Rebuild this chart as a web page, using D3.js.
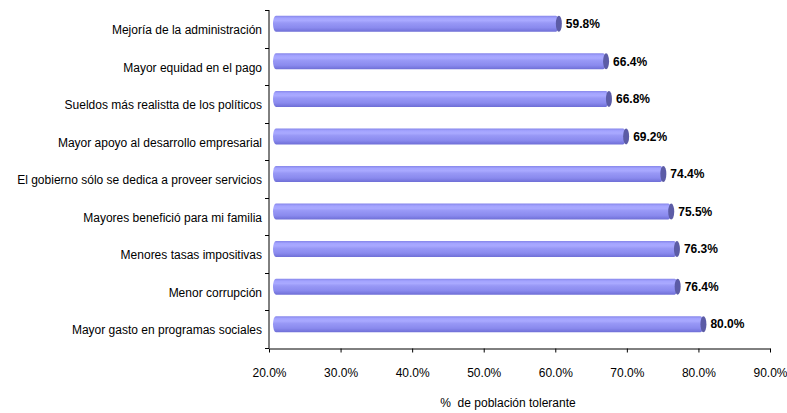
<!DOCTYPE html>
<html>
<head>
<meta charset="utf-8">
<script src="https://cdn.jsdelivr.net/npm/d3@7"></script>
<style>
  html, body { margin: 0; padding: 0; background: #fff; }
  svg { display: block; font-family: "Liberation Sans", Arial, sans-serif; }
</style>
</head>
<body>
<svg id="chart" width="787" height="413"></svg>
<script>
// Categories, top to bottom
const categories = [
  "Mejoría de la administración",
  "Mayor equidad en el pago",
  "Sueldos más realistta de los políticos",
  "Mayor apoyo al desarrollo empresarial",
  "El gobierno sólo se dedica a proveer servicios",
  "Mayores benefició para mi familia",
  "Menores tasas impositivas",
  "Menor corrupción",
  "Mayor gasto en programas sociales"
];
// Share of tolerant population (%)
const values = [59.8, 66.4, 66.8, 69.2, 74.4, 75.5, 76.3, 76.4, 80.0];
const xTicks = [20, 30, 40, 50, 60, 70, 80, 90];
const xTitle = "%  de población tolerante";

const svg = d3.select("#chart");
const margin = { left: 269, right: 18, top: 10, bottom: 65 };

const x = d3.scaleLinear().domain([20, 90]).range([margin.left, 770]);
const y = d3.scaleBand().domain(categories).range([margin.top, 348]).paddingInner(0).paddingOuter(0);

// Gradient for the cylindrical bars
const defs = svg.append("defs");
const grad = defs.append("linearGradient").attr("id", "barGrad")
  .attr("x1", 0).attr("y1", 0).attr("x2", 0).attr("y2", 1);
[
  [0, "#8686ea"], [0.15, "#a4a4ff"], [0.3, "#a9a9ff"], [0.45, "#9898f6"],
  [0.75, "#8a8aee"], [1, "#6e6ed6"]
].forEach(([o, c]) => grad.append("stop").attr("offset", o).attr("stop-color", c));

const barH = 16;
const dx = 5, dy = -5;   // depth shift of the 3-D bars
const capRx = 3;

const bars = svg.append("g").selectAll("g").data(categories).join("g");
bars.each(function (d, i) {
  const g = d3.select(this);
  const cy = y(d) + y.bandwidth() / 2 + dy;
  const x0 = x(20) + dx - 1;
  const x1 = x(values[i]) + dx;
  g.append("rect")
    .attr("x", x0).attr("y", cy - barH / 2)
    .attr("width", x1 - x0).attr("height", barH)
    .attr("rx", capRx).attr("ry", barH / 2)
    .attr("fill", "url(#barGrad)");
  g.append("ellipse")
    .attr("cx", x1).attr("cy", cy)
    .attr("rx", capRx).attr("ry", barH / 2)
    .attr("fill", "#5c5ca6");
  g.append("text")
    .attr("x", x1 + capRx + 4).attr("y", cy)
    .attr("dy", "0.35em")
    .attr("font-size", 12).attr("font-weight", "bold")
    .attr("fill", "#000")
    .text(values[i].toFixed(1) + "%");
});

// Y axis: line with ticks between categories
const yAxisG = svg.append("g");
yAxisG.append("line")
  .attr("x1", margin.left).attr("x2", margin.left)
  .attr("y1", margin.top).attr("y2", 348)
  .attr("stroke", "#000").attr("stroke-width", 1);
const bounds = categories.map(c => y(c)).concat([348]);
yAxisG.selectAll("line.tick").data(bounds).join("line")
  .attr("class", "tick")
  .attr("x1", margin.left - 4).attr("x2", margin.left)
  .attr("y1", d => Math.round(d) + 0.5).attr("y2", d => Math.round(d) + 0.5)
  .attr("stroke", "#000");
yAxisG.selectAll("text").data(categories).join("text")
  .attr("x", margin.left - 7)
  .attr("y", d => y(d) + y.bandwidth() / 2 + 1)
  .attr("dy", "0.35em")
  .attr("text-anchor", "end")
  .attr("font-size", 12)
  .attr("fill", "#000")
  .text(d => d);

// X axis
const xAxis = d3.axisBottom(x).tickValues(xTicks)
  .tickFormat(d => d.toFixed(1) + "%")
  .tickSize(4).tickSizeOuter(0);
const xg = svg.append("g").attr("transform", "translate(0,348.5)").call(xAxis);
xg.select(".domain").attr("stroke", "#000");
xg.selectAll(".tick line").attr("stroke", "#000");
xg.selectAll(".tick text")
  .attr("font-size", 12).attr("fill", "#000")
  .attr("font-family", "Liberation Sans, Arial, sans-serif")
  .attr("y", 20);

svg.append("text")
  .attr("x", 508).attr("y", 407)
  .attr("text-anchor", "middle")
  .attr("font-size", 12)
  .attr("fill", "#000")
  .attr("xml:space", "preserve")
  .style("white-space", "pre")
  .text(xTitle);
</script>
</body>
</html>
